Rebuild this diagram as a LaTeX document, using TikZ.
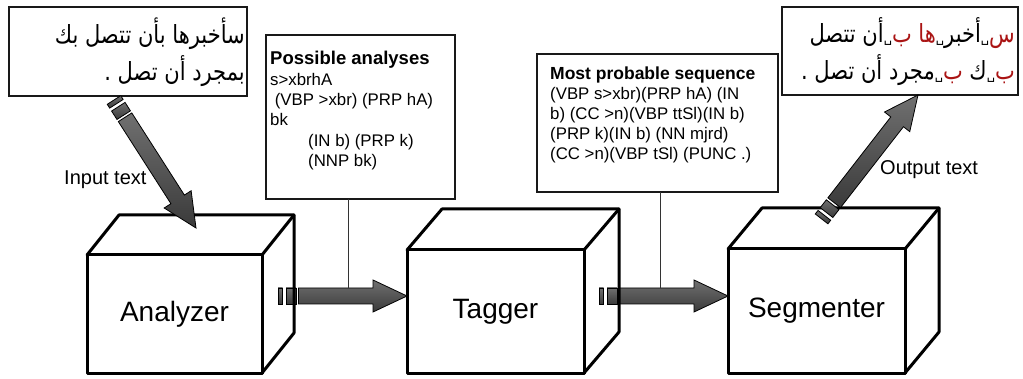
\documentclass[tikz,border=0pt]{standalone}
\usepackage{fontspec}
\setmainfont{Liberation Sans}
\newfontfamily\arabicfont[Script=Arabic, FakeStretch=0.84]{DejaVu Sans}
\newfontfamily\symfont{DejaVu Sans}
\TeXXeTstate=1
\usetikzlibrary{calc}

\definecolor{segred}{RGB}{170,20,20}
\definecolor{arrowdark}{RGB}{58,58,58}
\definecolor{arrowlight}{RGB}{112,112,112}

% segment boundary mark and highlighted affix
\newcommand\segmark{{\symfont\fontsize{13}{13}\selectfont ␣}}
\newcommand\rd[1]{\textcolor{segred}{#1}}
\newcommand\headfont{\fontsize{18.5}{20.4}\selectfont\bfseries}

\tikzset{
  cubeline/.style={line width=3pt, line join=round, line cap=round},
  cubefront/.style={draw, cubeline, outer sep=0pt, inner sep=0pt,
    font=\fontsize{28}{34}\selectfont},
  framebox/.style={draw=black!90, line width=1.4pt, outer sep=0pt, inner sep=0pt},
  infotext/.style={align=left, inner sep=0pt, font=\fontsize{16.8}{20.4}\selectfont},
  arabictext/.style={align=right, inner sep=0pt, font=\arabicfont\fontsize{25}{37}\selectfont},
  labeltext/.style={inner sep=0pt, font=\fontsize{20}{24}\selectfont},
  link/.style={draw=black!80, line width=0.9pt},
  arrowbody/.style={draw=black, line width=0.8pt, line join=miter,
    top color=arrowlight, bottom color=arrowdark},
  pics/blockarrow/.style={code={%
    \pgfmathsetmacro\bal{#1}%
    \pgfmathsetmacro\bah{\bal-34}%
    \path[arrowbody] (0,-8) rectangle (4.5,8);
    \path[arrowbody] (8,-8) rectangle (18,8);
    \path[arrowbody] (20.5,-8) -- (\bah,-8) -- (\bah,-16) -- (\bal,0)
      -- (\bah,16) -- (\bah,8) -- (20.5,8) -- cycle;
  }}
}

% block arrow with a broken tail, from one named point to another
\newcommand\blockarrow[2]{%
  \path (#1); \pgfgetlastxy{\baxa}{\baya}%
  \path (#2); \pgfgetlastxy{\baxb}{\bayb}%
  \pgfmathsetmacro\baang{atan2(\bayb-\baya,\baxb-\baxa)}%
  \pgfmathsetmacro\balen{veclen(\baxb-\baxa,\bayb-\baya)}%
  \pic[rotate=\baang] at (#1) {blockarrow=\balen};
}

% top and side faces of a box drawn behind its front face
\newcommand\cubeback[3]{%
  \draw[cubeline] (#1.north west) -- ++(#2,-#3)
    -- ([shift={(#2,-#3)}]#1.north east)
    -- ([shift={(#2,-#3)}]#1.south east) -- (#1.south east);
  \draw[cubeline] (#1.north east) -- ++(#2,-#3);
}

\begin{document}
\begin{tikzpicture}[x=1pt, y=-1pt]
\useasboundingbox (0,0) rectangle (1023,379);

% ---- processing stages (front faces) ----
\node[cubefront, minimum width=175, minimum height=118] (ana) at (174.5,314) {Analyzer};
\node[cubefront, minimum width=177, minimum height=123] (tag) at (495.5,311.5) {Tagger};
\node[cubefront, minimum width=177, minimum height=124] (seg) at (816.5,311) {Segmenter};

% ---- pipeline arrows between stages ----
\coordinate (a1tail) at (278,296);
\coordinate (a1tip)  at (tag.west |- a1tail);
\coordinate (a2tail) at (599,296);
\coordinate (a2tip)  at (seg.west |- a2tail);
\blockarrow{a1tail}{a1tip}
\blockarrow{a2tail}{a2tip}

% ---- box depth ----
\cubeback{ana}{32}{40}
\cubeback{tag}{35}{41}
\cubeback{seg}{34}{41}

% ---- intermediate results ----
\node[framebox, minimum width=189, minimum height=164, anchor=north west] (pa) at (266,35) {};
\node[infotext, anchor=north west] (pa-lines) at (270,51) {%
  {\headfont Possible analyses}\\
  s>xbrhA\\
  \ (VBP >xbr) (PRP hA)\\
  bk\\
  \hspace{38pt}(IN b) (PRP k)\\
  \hspace{38pt}(NNP bk)};

\node[framebox, minimum width=241, minimum height=138, anchor=north west] (mps) at (537,54) {};
\node[infotext, anchor=north west, font=\fontsize{16.8}{20}\selectfont] (mps-lines) at (550,66.5) {%
  {\fontsize{17.5}{20}\selectfont\bfseries Most probable sequence}\\
  (VBP s>xbr)(PRP hA) (IN\\
  b) (CC >n)(VBP ttSl)(IN b)\\
  (PRP k)(IN b) (NN mjrd)\\
  (CC >n)(VBP tSl) (PUNC .)};

\coordinate (pa-foot)  at (348,288);
\coordinate (mps-foot) at (660,288);
\draw[link] (pa.south -| pa-foot) -- (pa-foot);
\draw[link] (mps.south -| mps-foot) -- (mps-foot);

% ---- input sentence ----
\node[framebox, minimum width=238, minimum height=89, anchor=north west] (src) at (9,7) {};
\node[arabictext, anchor=east] (src-lines) at (245,52) {%
  \beginR سأخبرها بأن تتصل بك\endR\\
  \beginR بمجرد أن تصل .\endR};

% ---- segmented output ----
\node[framebox, minimum width=236, minimum height=88, anchor=north west] (out) at (782,7) {};
\node[arabictext, anchor=east] (out-lines) at (1015,52) {%
  {\beginR أن تتصل\endR}\segmark\rd{ب} \rd{ها}\segmark أخبر\segmark\rd{س}\\
  {\beginR مجرد أن تصل .\endR}\segmark\rd{ب} ك\segmark\rd{ب}};

% ---- input and output arrows ----
\coordinate (in-tail)  at (114,100);
\coordinate (in-tip)   at (196,228);
\coordinate (out-tail) at (821.6,218.9);
\coordinate (out-tip)  at (918,95);
\blockarrow{in-tail}{in-tip}
\blockarrow{out-tail}{out-tip}

\node[labeltext, anchor=west] (in-label)  at (64,180)  {Input text};
\node[labeltext, anchor=west] (out-label) at (880,170) {Output text};
\end{tikzpicture}
\end{document}
